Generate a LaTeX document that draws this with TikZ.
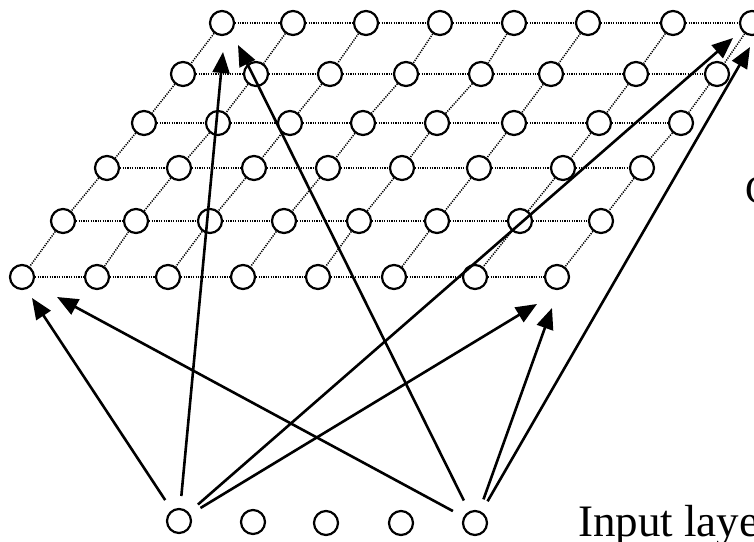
\documentclass[tikz,border=0pt]{standalone}
\usepackage{fontspec}
\setmainfont{Liberation Serif}
\usetikzlibrary{arrows.meta,backgrounds}
\begin{document}
\begin{tikzpicture}[x=1pt,y=-1pt,
  unit/.style={circle, draw, fill=white, line width=2.2pt, minimum size=24pt, inner sep=0pt},
  gridline/.style={line width=1.5pt, dash pattern=on 1.2pt off 1.2pt},
  arr/.style={line width=2.6pt, -{Triangle[length=21pt,width=17pt]}, shorten <=12pt},
  lbl/.style={inner sep=0pt, font=\fontsize{45}{50}\selectfont},
  lbltwo/.style={inner sep=0pt, font=\fontsize{40}{46}\selectfont}]
\useasboundingbox (0,0) rectangle (754,541);
\clip (0,0) rectangle (754,541);
% grid of output units
\foreach \r/\y/\xs in {
  1/23/{222,293,366,440,514,588,673,752},
  2/74/{183,256,330,406,481,551,636,717},
  3/123/{144,218,290,363,437,514,599,681},
  4/168/{107,179,254,328,402,479,563,642},
  5/221/{63,136,210,284,359,437,520,601},
  6/277/{22,97,168,243,318,394,475,557}}{
  \foreach \x [count=\c] in \xs {
    \node[unit] (g-\r-\c) at (\x,\y) {};
  }
}
\begin{pgfonlayer}{background}
\foreach \r in {1,...,6}{
  \foreach \c [evaluate=\c as \n using {int(\c+1)}] in {1,...,7}{
    \draw[gridline] (g-\r-\c) -- (g-\r-\n);
  }
}
\foreach \r [evaluate=\r as \s using {int(\r+1)}] in {1,...,5}{
  \foreach \c in {1,...,8}{
    \draw[gridline] (g-\r-\c) -- (g-\s-\c);
  }
}
\end{pgfonlayer}
% input units
\node[unit] (in1) at (179,521) {};
\node[unit] (in2) at (253,522) {};
\node[unit] (in3) at (326,523) {};
\node[unit] (in4) at (401,523) {};
\node[unit] (in5) at (475,523) {};
% arrow tips
\coordinate (tA) at (32,298);
\coordinate (tB) at (223,52);
\coordinate (tC) at (733,38);
\coordinate (tD) at (537,304);
\coordinate (tE) at (57,297);
\coordinate (tF) at (238,45);
\coordinate (tG) at (552,308);
\coordinate (tH) at (750,47);
\draw[arr] (in1) -- (tA);
\draw[arr] (in1) -- (tB);
\draw[arr] (in1) -- (tC);
\draw[arr] (in1) -- (tD);
\draw[arr] (in5) -- (tE);
\draw[arr] (in5) -- (tF);
\draw[arr] (in5) -- (tG);
\draw[arr] (in5) -- (tH);
% labels
\node[lbl, anchor=base west] (inlbl) at (578,536) {Input layer};
\node[lbltwo, anchor=base west] (outlbl) at (745,203) {Competitive layer};
\end{tikzpicture}
\end{document}
